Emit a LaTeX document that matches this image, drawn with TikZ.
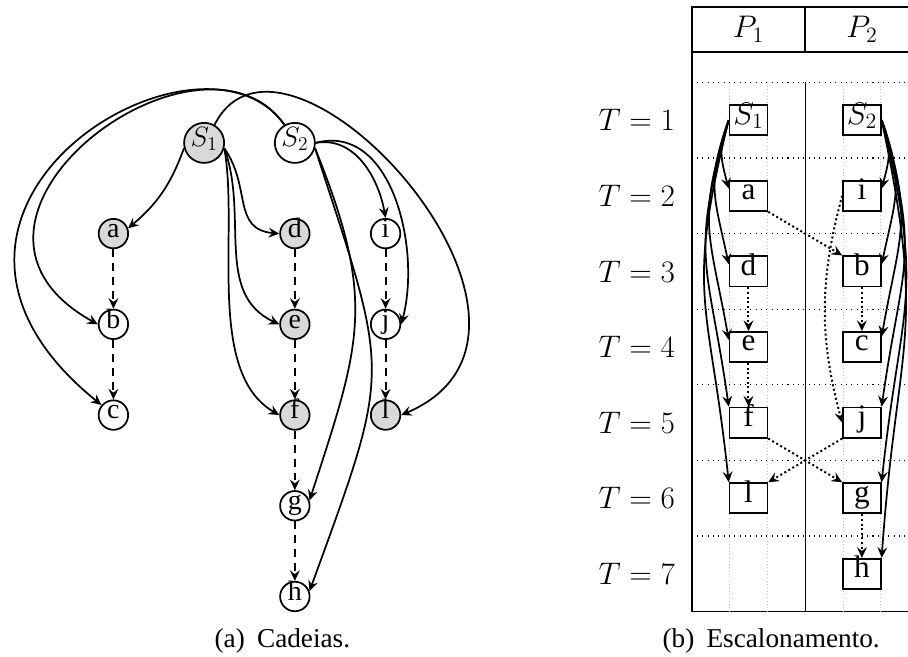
\RequirePackage{fix-cm}
\documentclass[tikz,border=0pt]{standalone}
\usepackage[no-math]{fontspec}
\setmainfont{Liberation Serif}
\usepackage{tikz}
\usetikzlibrary{arrows.meta}

\begin{document}
\begin{tikzpicture}[
    >={Stealth[length=2.8mm,width=2.6mm,inset=1mm]},
    tarefa/.style={circle, draw, line width=1.3pt, inner sep=1pt, minimum size=0.78cm,
        text height=0.75em, text depth=0.16em, font=\fontsize{21}{25}\selectfont},
    inicio/.style={tarefa, minimum size=1.06cm},
    cinza/.style={fill=black!15},
    cadeia/.style={->, line width=1.4pt, dash pattern=on 6pt off 4.5pt},
    ligacao/.style={->, line width=1.3pt},
    caixa/.style={draw, line width=1.3pt, minimum width=1cm, minimum height=0.8cm, inner sep=0pt,
        text height=0.75em, text depth=0.16em, font=\fontsize{23.5}{28}\selectfont},
    prec/.style={->, line width=1.5pt, dotted},
    rotulo/.style={font=\fontsize{23.5}{28}\selectfont, inner sep=0pt},
    legenda/.style={font=\fontsize{20.5}{24}\selectfont}
]
    \useasboundingbox (0,0) rectangle (24.02,17.38);
    \clip (0,0) rectangle (24.02,17.38);

    %CADEIAS
    \node[inicio, cinza] (S1) at (5.4,13.6) {$S_1$};
    \node[inicio] (S2) at (7.8,13.6) {$S_2$};
    \node[tarefa, cinza] (a) at (3.0,11.2) {a};
    \node[tarefa] (b) at (3.0,8.8) {b};
    \node[tarefa] (c) at (3.0,6.4) {c};
    \node[tarefa, cinza] (d) at (7.8,11.2) {d};
    \node[tarefa, cinza] (e) at (7.8,8.8) {e};
    \node[tarefa, cinza] (f) at (7.8,6.4) {f};
    \node[tarefa] (g) at (7.8,4.0) {g};
    \node[tarefa] (h) at (7.8,1.6) {h};
    \node[tarefa] (i) at (10.2,11.2) {i};
    \node[tarefa] (j) at (10.2,8.8) {j};
    \node[tarefa, cinza] (l) at (10.2,6.4) {l};
    %TRACEJADAS
    \draw[cadeia] (a) -- (b);
    \draw[cadeia] (b) -- (c);
    \draw[cadeia] (d) -- (e);
    \draw[cadeia] (e) -- (f);
    \draw[cadeia] (f) -- (g);
    \draw[cadeia] (g) -- (h);
    \draw[cadeia] (i) -- (j);
    \draw[cadeia] (j) -- (l);
    %SAIDAS DE S1
    \draw[ligacao] (S1.195) to[out=250, in=40] (a.20);
    \draw[ligacao] (S1.-15) to[out=-55, in=175, looseness=1.2] (d.west);
    \draw[ligacao] (S1.-15) to[out=-70, in=155] (e.west);
    \draw[ligacao] (S1.-15) to[out=-80, in=150, looseness=0.8] (f.west);
    \draw[ligacao] (S1.60) .. controls (7.54,17.78) and (15.9,8.65) .. (l.east);
    %SAIDAS DE S2
    \draw[ligacao] (S2.120) .. controls (5.29,17.25) and (-2.38,11.56) .. (b.west);
    \draw[ligacao] (S2.120) .. controls (5.29,17.25) and (-3.7,11.83) .. (c.140);
    \draw[ligacao] (S2.east) to[out=10, in=100] (i.north);
    \draw[ligacao] (S2.east) to[out=15, in=75] (j.east);
    \draw[ligacao] (S2.-15) to[out=-68, in=72, looseness=1.2] (g.20);
    \draw[ligacao] (S2.-15) to[out=-72, in=70, looseness=1.4] (h.20);
    \node[legenda] (capa) at (7.47,0.42) {(a)\hspace{0.45em}Cadeias.};

    %TABELA
    \draw[line width=1.3pt] (18.3,16.0) rectangle (24.3,17.2);
    \draw[line width=1.3pt] (21.3,16.0) -- (21.3,17.2);
    \node[rotulo] (P1) at (19.8,16.6) {$P_1$};
    \node[rotulo] (P2) at (22.8,16.6) {$P_2$};
    \draw[line width=1.1pt] (18.3,16.0) -- (18.3,1.2) -- (24.3,1.2);
    \draw[line width=0.7pt] (21.3,15.2) -- (21.3,1.2);
    \foreach \x in {19.3,20.3,22.3,23.3}
        \draw[black!25, dotted, line width=0.5pt] (\x,15.2) -- (\x,1.2);
    \foreach \y in {15.2,13.2,11.2,9.2,7.2,5.2,3.2}
        \draw[line width=0.8pt, dash pattern=on 0.8pt off 3.2pt] (18.3,\y) -- (24.3,\y);
    \foreach \t in {1,...,7}
        \node[rotulo, anchor=east] (T\t) at (17.86,{16.2-2*\t}) {$T=\t$};
    %ESCALONAMENTO
    \node[caixa] (sS1) at (19.8,14.2) {$S_1$};
    \node[caixa] (sa) at (19.8,12.2) {a};
    \node[caixa] (sd) at (19.8,10.2) {d};
    \node[caixa] (se) at (19.8,8.2) {e};
    \node[caixa] (sf) at (19.8,6.2) {f};
    \node[caixa] (sl) at (19.8,4.2) {l};
    \node[caixa] (sS2) at (22.8,14.2) {$S_2$};
    \node[caixa] (si) at (22.8,12.2) {i};
    \node[caixa] (sb) at (22.8,10.2) {b};
    \node[caixa] (sc) at (22.8,8.2) {c};
    \node[caixa] (sj) at (22.8,6.2) {j};
    \node[caixa] (sg) at (22.8,4.2) {g};
    \node[caixa] (sh) at (22.8,2.2) {h};
    \draw[ligacao] (sS1.west) to[out=248, in=105, looseness=1.1] (sa.160);
    \draw[ligacao] (sS1.west) to[out=250, in=102, looseness=1.2] (sd.160);
    \draw[ligacao] (sS1.west) to[out=252, in=100, looseness=1.25] (se.160);
    \draw[ligacao] (sS1.west) to[out=254, in=98, looseness=1.3] (sf.north west);
    \draw[ligacao] (sS1.west) to[out=256, in=96, looseness=1.3] (sl.north west);
    \draw[ligacao] (sS2.east) to[out=-68, in=75, looseness=1.1] (si.20);
    \draw[ligacao] (sS2.east) to[out=-70, in=78, looseness=1.2] (sb.20);
    \draw[ligacao] (sS2.east) to[out=-72, in=80, looseness=1.25] (sc.28);
    \draw[ligacao] (sS2.east) to[out=-74, in=82, looseness=1.3] (sj.north east);
    \draw[ligacao] (sS2.east) to[out=-76, in=84, looseness=1.3] (sg.north east);
    \draw[ligacao] (sS2.east) to[out=-78, in=86, looseness=1.3] (sh.north east);
    %PRECEDENCIAS
    \draw[prec] (sa.south east) -- (sb.north west);
    \draw[prec] (sb.south) -- (sc.north);
    \draw[prec] (sd.south) -- (se.north);
    \draw[prec] (se.south) -- (sf.north);
    \draw[prec] (sf.south east) -- (sg.north west);
    \draw[prec] (sg.south) -- (sh.north);
    \draw[prec] (si.west) to[bend right=15] (sj.west);
    \draw[prec] (sj.south west) -- (sl.north east);
    \node[legenda] (capb) at (20.4,0.42) {(b)\hspace{0.45em}Escalonamento.};
\end{tikzpicture}
\end{document}
